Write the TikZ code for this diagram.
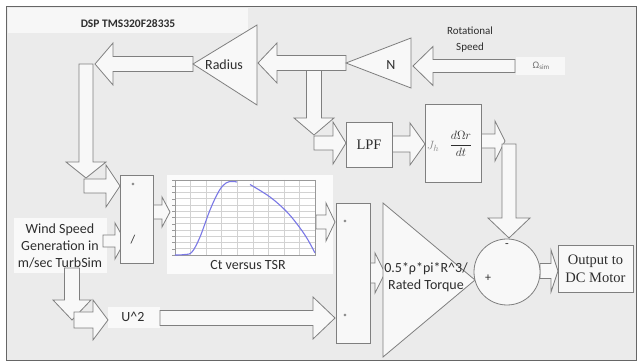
\documentclass[tikz,border=0pt]{standalone}
\usepackage{fontspec}
\setmainfont{Carlito}
\newfontfamily\serifff{Liberation Serif}
\definecolor{bgc}{HTML}{EBEBEB}
\definecolor{edge}{HTML}{7F7F7F}
\definecolor{boxfill}{HTML}{F8F8F8}
\definecolor{txt}{HTML}{2E2E2E}
\definecolor{curvec}{HTML}{7A78E6}
\definecolor{gridc}{HTML}{D2D2D2}
\tikzset{
  shapebox/.style={draw=edge, fill=boxfill, line width=0.8pt, inner sep=0pt},
  barrow/.style={draw=edge, fill=boxfill, line width=0.8pt, line join=miter},
  lbl/.style={text=txt, inner sep=0pt, font=\fontsize{14}{17}\selectfont, align=center},
  slbl/.style={text=txt, inner sep=0pt, font=\fontsize{11}{16}\selectfont, align=center},
  serlbl/.style={text=txt, inner sep=0pt, font=\serifff\fontsize{14.5}{18}\selectfont, align=center},
}
% horizontal block arrow: start x, apex x, centre y, shaft half width, head half width, signed head length
\newcommand\harr[6]{\pgfmathsetmacro\xb{#2-(#6)}\draw[barrow] (#1,#3-#4) -- (\xb,#3-#4) -- (\xb,#3-#5) -- (#2,#3) -- (\xb,#3+#5) -- (\xb,#3+#4) -- (#1,#3+#4) -- cycle;}
% vertical block arrow: centre x, start y, apex y, shaft half width, head half width, head length
\newcommand\varr[6]{\pgfmathsetmacro\yb{#3-(#6)}\draw[barrow] (#1-#4,#2) -- (#1-#4,\yb) -- (#1-#5,\yb) -- (#1,#3) -- (#1+#5,\yb) -- (#1+#4,\yb) -- (#1+#4,#2) -- cycle;}
\begin{document}
\begin{tikzpicture}[x=1pt,y=-1pt]
\useasboundingbox (0,0) rectangle (638,363);
\fill[white] (0,0) rectangle (638,363);
% frame
\draw[fill=bgc, draw=black!60, line width=1pt] (6,7) rectangle (636,361);
\fill[white!60!bgc] (7.5,8.5) rectangle (248,33);
\node[text=txt, inner sep=0pt, font=\bfseries\fontsize{11.5}{13}\selectfont] (dsp) at (128,24) {DSP TMS320F28335};

% text backgrounds
\fill[white!70!bgc] (14,218) rectangle (107,273);
\fill[white!70!bgc] (108,307) rectangle (160,328);
\fill[white!60!bgc] (516,57) rectangle (565,75);
\fill[white!80!bgc] (167,175) rectangle (333,274);

% arrows (drawn beneath blocks)
\varr{314}{68}{135}{7.5}{20}{17}
\harr{314}{346}{143}{7}{21}{13}
\harr{515}{413}{66}{6.5}{19.5}{-20}
\harr{346}{258}{63}{7.5}{20}{-19}
\harr{193}{95}{64}{7.5}{21}{-18}
\varr{86}{64}{178}{7}{20}{16}
\harr{84}{120}{186}{7}{21}{14}
\harr{103}{125}{241}{6}{18}{10}
\harr{153}{170}{212}{7}{15}{8}
\harr{316}{335}{222}{7}{19}{9}
\harr{160}{335}{318}{7.5}{21}{22}
\varr{72}{268}{320}{7.5}{19}{20}
\harr{74}{108}{320}{8}{20}{15}
\harr{392}{425}{144}{8}{21}{15}
\harr{481}{505}{141}{7}{20}{10}
\varr{509}{144}{238}{7}{21}{20}
\harr{370}{385}{273}{10}{20}{10}
\harr{540}{558}{271}{7.5}{21}{7}

% triangles
\draw[barrow] (193,64) -- (257,25) -- (257,105) -- cycle;
\node[lbl] (radius) at (224,65) {Radius};
\draw[barrow] (346,63) -- (411,38) -- (411,88) -- cycle;
\node[lbl] (n) at (391,65) {N};
\draw[barrow] (383,203) -- (475,280) -- (383,357) -- cycle;
\node[lbl] (gain) at (426,277) {0.5*ρ*pi*R\^{}3/\\Rated Torque};

% blocks
\node[shapebox, minimum width=33pt, minimum height=88pt] (prodl) at (136.5,219) {};
\node[text=txt, font=\fontsize{9}{10}\selectfont] (pl1) at (133,186) {*};
\node[lbl, font=\fontsize{12}{14}\selectfont] (pl2) at (133,240) {/};
\node[shapebox, minimum width=34pt, minimum height=140pt] (prodr) at (353,273) {};
\node[text=txt, font=\fontsize{9}{10}\selectfont] (pr1) at (345,223) {*};
\node[text=txt, font=\fontsize{9}{10}\selectfont] (pr2) at (345,317) {*};
\node[shapebox, minimum width=46pt, minimum height=45pt, serlbl] (lpf) at (369,144.5) {LPF};
\node[shapebox, minimum width=56pt, minimum height=78pt] (jh) at (453,143) {};
\node[text=black!45, inner sep=0pt, font=\fontsize{13}{15}\selectfont] (jhj) at (433,146) {$J_h$};
\node[text=txt, inner sep=0pt, font=\fontsize{13}{15}\selectfont] (jhf) at (461,144) {$\displaystyle\frac{d\Omega r}{dt}$};
\node[shapebox, circle, minimum size=66pt] (sum) at (507,272) {};
\node[text=txt, font=\fontsize{12}{14}\selectfont] (minus) at (507,246) {-};
\node[text=txt, font=\fontsize{12}{14}\selectfont] (plus) at (488,278) {+};
\node[shapebox, minimum width=75pt, minimum height=47pt, serlbl] (out) at (595.5,268.5) {Output to\\DC Motor};

% chart
\fill[white] (175,180) rectangle (315,255);
\foreach \i in {0,...,9} \draw[gridc, line width=0.5pt] (175+\i*15.556,180) -- (175+\i*15.556,255);
\foreach \j in {0,...,12} \draw[gridc, line width=0.5pt] (175,180+\j*6.25) -- (315,180+\j*6.25);
\draw[black!40, line width=0.5pt] (175,180) rectangle (315,255);
\foreach \j in {0,...,12} \draw[black!40, line width=0.4pt] (172,180+\j*6.25) -- (175,180+\j*6.25);
\draw[curvec, line width=1.1pt] plot[smooth, tension=0.6] coordinates {(175,255) (185,254.5) (192,252) (200,237) (210,210) (219,191) (226,183) (232,181.5) (237,182)};
\draw[curvec, line width=1.1pt] plot[smooth, tension=0.6] coordinates {(250,184.5) (270,197) (287,212) (300,228) (308,240) (315,253)};
\node[lbl] (ct) at (248,265) {Ct versus TSR};

% texts
\node[lbl] (wind) at (60,246) {Wind Speed\\Generation in\\m/sec TurbSim};
\node[lbl] (u2) at (133,317) {U\^{}2};
\node[slbl] (rot) at (470,40) {Rotational\\Speed};
\node[text=black!55, inner sep=0pt, font=\fontsize{10}{12}\selectfont] (omega) at (541,66) {Ω\raisebox{-1pt}{\fontsize{7}{8}\selectfont sim}};
\end{tikzpicture}
\end{document}
